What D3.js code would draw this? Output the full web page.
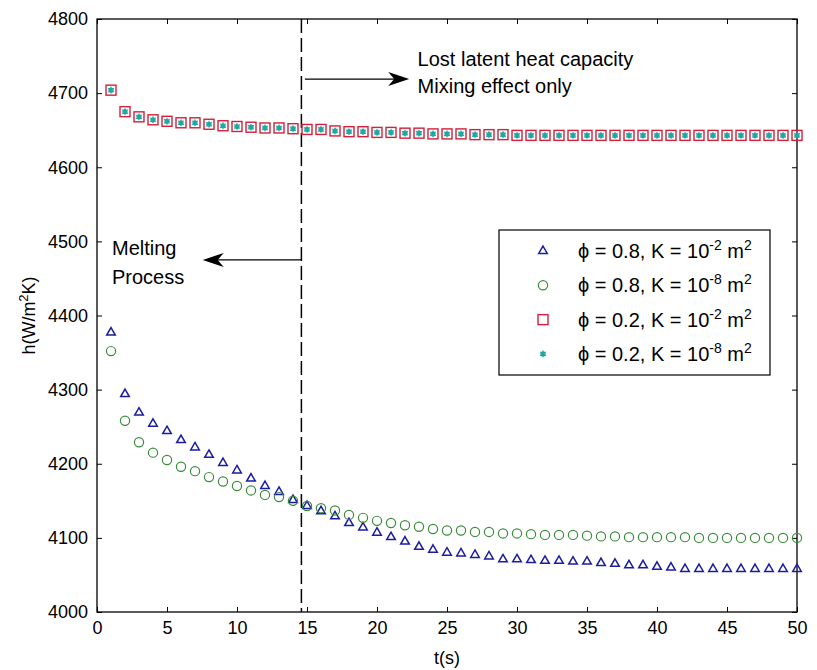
<!DOCTYPE html>
<html>
<head>
<meta charset="utf-8">
<script src="https://cdn.jsdelivr.net/npm/d3@7"></script>
<style>
  html, body { margin: 0; padding: 0; background: #fff; }
  svg { display: block; font-family: "Liberation Sans", Arial, sans-serif; }
</style>
</head>
<body>
<svg id="viz" width="817" height="670"></svg>
<script>
const WIDTH = 817, HEIGHT = 670;
const MARGIN = { top: 19, right: 20, bottom: 58, left: 97 };

// values, t = 1..50
const times = d3.range(1, 51);

const hBlue = [4377, 4294, 4269, 4254, 4244, 4232, 4222, 4212, 4201, 4191,
  4180, 4170, 4162, 4151, 4143, 4136, 4129, 4120, 4114, 4107,
  4101, 4095, 4088, 4084, 4080, 4079, 4077, 4075, 4071, 4071,
  4070, 4069, 4069, 4068, 4068, 4066, 4065, 4063, 4063, 4061,
  4060, 4058, 4058, 4058, 4058, 4058, 4058, 4058, 4058, 4058];

const hGreen = [4352, 4258, 4229, 4215, 4205, 4196, 4190, 4182, 4176, 4170,
  4164, 4158, 4155, 4150, 4143, 4140, 4137, 4131, 4127, 4123,
  4120, 4117, 4115, 4112, 4110, 4110, 4108, 4108, 4106, 4106,
  4105, 4104, 4104, 4104, 4103, 4102, 4102, 4101, 4101, 4101,
  4101, 4101, 4100, 4100, 4100, 4100, 4100, 4100, 4100, 4100];

const hRed = [4704, 4675, 4668, 4664, 4662, 4660, 4660, 4658, 4656, 4655,
  4654, 4653, 4653, 4652, 4651, 4651, 4649, 4648, 4648, 4647,
  4647, 4646, 4646, 4645, 4645, 4645, 4644, 4644, 4644, 4643,
  4643, 4643, 4643, 4643, 4643, 4643, 4643, 4643, 4643, 4643,
  4643, 4643, 4643, 4643, 4643, 4643, 4643, 4643, 4643, 4643];

const hCyan = [4704, 4675, 4668, 4664, 4662, 4660, 4660, 4658, 4656, 4655,
  4654, 4653, 4653, 4652, 4651, 4651, 4649, 4648, 4648, 4647,
  4647, 4646, 4646, 4645, 4645, 4645, 4644, 4644, 4644, 4643,
  4643, 4643, 4643, 4643, 4643, 4643, 4643, 4643, 4643, 4643,
  4643, 4643, 4643, 4643, 4643, 4643, 4643, 4643, 4643, 4643];

const seriesNames = [
  { phi: "0.8", k: "-2" },
  { phi: "0.8", k: "-8" },
  { phi: "0.2", k: "-2" },
  { phi: "0.2", k: "-8" }
];

const xTicks = d3.range(0, 51, 5);
const yTicks = d3.range(4000, 4801, 100);

const tSplit = 14.6;

const INNER_W = WIDTH - MARGIN.left - MARGIN.right;
const INNER_H = HEIGHT - MARGIN.top - MARGIN.bottom;

const svg = d3.select("#viz");
const g = svg.append("g").attr("transform", `translate(${MARGIN.left},${MARGIN.top})`);

const x = d3.scaleLinear().domain([0, 50]).range([0, INNER_W]);
const y = d3.scaleLinear().domain([4000, 4800]).range([INNER_H, 0]);

// axes, ticks inside on all four sides
const TICK = 5;
const axisStyle = sel => {
  sel.select(".domain").remove();
  sel.selectAll("line").attr("stroke", "#000").attr("stroke-width", 1);
};

g.append("g").attr("transform", `translate(0,${INNER_H})`)
  .call(d3.axisBottom(x).tickValues(xTicks).tickSize(-TICK).tickPadding(9).tickFormat(d3.format("d")))
  .call(axisStyle)
  .selectAll("text").attr("font-size", 18).attr("fill", "#000")
  .attr("font-family", "Liberation Sans, Arial, sans-serif");

g.append("g")
  .call(d3.axisTop(x).tickValues(xTicks).tickSize(-TICK).tickFormat(""))
  .call(axisStyle);

g.append("g")
  .call(d3.axisLeft(y).tickValues(yTicks).tickSize(-TICK).tickPadding(9).tickFormat(d3.format("d")))
  .call(axisStyle)
  .selectAll("text").attr("font-size", 18).attr("fill", "#000")
  .attr("font-family", "Liberation Sans, Arial, sans-serif");

g.append("g").attr("transform", `translate(${INNER_W},0)`)
  .call(d3.axisRight(y).tickValues(yTicks).tickSize(-TICK).tickFormat(""))
  .call(axisStyle);

g.append("rect")
  .attr("width", INNER_W).attr("height", INNER_H)
  .attr("fill", "none").attr("stroke", "#000").attr("stroke-width", 1.3);

// axis labels
svg.append("text")
  .attr("x", MARGIN.left + INNER_W / 2).attr("y", 664)
  .attr("text-anchor", "middle").attr("font-size", 18)
  .text("t(s)");

const yl = svg.append("text")
  .attr("transform", `translate(35,${MARGIN.top + INNER_H / 2}) rotate(-90)`)
  .attr("text-anchor", "middle").attr("font-size", 18);
yl.append("tspan").text("h(W/m");
yl.append("tspan").attr("dy", -7).attr("font-size", 13).text("2");
yl.append("tspan").attr("dy", 7).text("K)");

// dashed separator + annotations
g.append("line")
  .attr("x1", x(tSplit)).attr("x2", x(tSplit))
  .attr("y1", 0).attr("y2", INNER_H)
  .attr("stroke", "#000").attr("stroke-width", 1.5)
  .attr("stroke-dasharray", "14,5");

function arrow(t0, t1, h) {
  const x0 = x(t0), x1 = x(t1), yy = y(h);
  const dir = x1 > x0 ? 1 : -1;
  const L = 21, W = 7, N = 6;
  g.append("line")
    .attr("x1", x0).attr("x2", x1 - dir * N).attr("y1", yy).attr("y2", yy)
    .attr("stroke", "#000").attr("stroke-width", 1.2);
  g.append("path")
    .attr("d", `M${x1},${yy} L${x1 - dir * L},${yy - W} L${x1 - dir * (L - N)},${yy} L${x1 - dir * L},${yy + W} Z`)
    .attr("fill", "#000");
}
arrow(14.85, 22.3, 4719);
arrow(14.6, 7.55, 4475);

const notes = [
  { t: 22.9, h: 4736, s: "Lost latent heat capacity" },
  { t: 22.9, h: 4700, s: "Mixing effect only" },
  { t: 1.07, h: 4482, s: "Melting" },
  { t: 1.07, h: 4443, s: "Process" }
];
g.selectAll(".note").data(notes).join("text")
  .attr("class", "note")
  .attr("x", d => x(d.t)).attr("y", d => y(d.h))
  .attr("font-size", 20).attr("fill", "#000")
  .text(d => d.s);

// markers
const blue = "#1c1ca0", green = "#3a8c3a", red = "#d4203a", cyan = "#1fa8a3";
const tri = d3.symbol().type(d3.symbolTriangle).size(32);

function drawTri(sel) {
  sel.append("path").attr("d", tri)
    .attr("fill", "none").attr("stroke", blue).attr("stroke-width", 1.5);
}
function drawCircle(sel) {
  sel.append("circle").attr("r", 4.6)
    .attr("fill", "none").attr("stroke", green).attr("stroke-width", 1.2);
}
function drawSquare(sel) {
  sel.append("rect").attr("x", -5).attr("y", -5).attr("width", 10).attr("height", 10)
    .attr("fill", "none").attr("stroke", red).attr("stroke-width", 1.4);
}
function drawDot(sel) {
  sel.append("circle").attr("r", 2.6).attr("fill", cyan);
  sel.append("path").attr("d", "M0,-3.5V3.5M-3,-2L3,2M-3,2L3,-2")
    .attr("stroke", cyan).attr("stroke-width", 1);
}

const series = [
  { vals: hBlue, draw: drawTri },
  { vals: hGreen, draw: drawCircle },
  { vals: hRed, draw: drawSquare },
  { vals: hCyan, draw: drawDot }
];

series.forEach((s, i) => {
  const pts = times.map((t, j) => ({ t, h: s.vals[j] }));
  g.append("g").attr("class", "series-" + i)
    .selectAll("g").data(pts).join("g")
    .attr("transform", d => `translate(${x(d.t)},${y(d.h)})`)
    .each(function () { s.draw(d3.select(this)); });
});

// legend
const LEG = { x: 402, y: 211, w: 271, h: 145, row: 34.3 };
const leg = g.append("g").attr("transform", `translate(${LEG.x},${LEG.y})`);
leg.append("rect").attr("width", LEG.w).attr("height", LEG.h)
  .attr("fill", "#fff").attr("stroke", "#000").attr("stroke-width", 1.2);

seriesNames.forEach((d, i) => {
  const row = leg.append("g").attr("transform", `translate(0,${21 + i * LEG.row})`);
  const m = row.append("g").attr("transform", "translate(44,0)");
  series[i].draw(m);
  const tx = row.append("text").attr("x", 79).attr("y", 7)
    .attr("font-size", 20).attr("fill", "#000");
  tx.append("tspan").text(`\u03d5 = ${d.phi}, K = 10`);
  tx.append("tspan").attr("dy", -8).attr("font-size", 14).text(d.k);
  tx.append("tspan").attr("dy", 8).text(" m");
  tx.append("tspan").attr("dy", -8).attr("font-size", 14).text("2");
});
</script>
</body>
</html>
